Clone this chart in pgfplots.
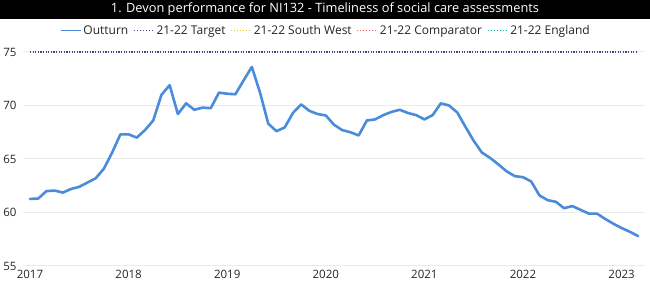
\documentclass[border=0pt]{standalone}
\usepackage{pgfplots}
\pgfplotsset{compat=1.18}
\usepackage{fontspec}
\setmainfont{Open Sans}
\definecolor{outturn}{HTML}{4A8BDB}
\definecolor{target}{HTML}{3C4A85}
\definecolor{southwest}{HTML}{F2C80F}
\definecolor{comparator}{HTML}{FD625E}
\definecolor{england}{HTML}{01B8AA}
\definecolor{gridc}{HTML}{EBEBEB}
\definecolor{txt}{HTML}{252423}

\newcommand{\legsym}[2]{%
  \tikz[baseline=-0.6ex]{\draw[#1, line width=1.2pt, #2] (0,0) -- (20pt,0);}}

\begin{document}
\begin{tikzpicture}[x=1pt, y=1pt]
\useasboundingbox (0,0) rectangle (650,288);
\fill[black] (0,269) rectangle (650,288);
\node[text=white, font=\fontsize{12.8}{14}\selectfont] at (325,279)
  {1. Devon performance for NI132 - Timeliness of social care assessments};

\node[text=txt, font=\fontsize{12}{14}\selectfont, inner sep=0pt] at (325,256.5) {%
  \legsym{outturn}{solid}\,Outturn\hspace{5pt}%
  \legsym{target}{dash pattern=on 1pt off 2pt}\,21-22 Target\hspace{5pt}%
  \legsym{southwest}{dash pattern=on 1pt off 2pt}\,21-22 South West\hspace{5pt}%
  \legsym{comparator}{dash pattern=on 1pt off 2pt}\,21-22 Comparator\hspace{5pt}%
  \legsym{england}{dash pattern=on 1pt off 2pt}\,21-22 England};

\begin{axis}[
  at={(23pt,22pt)}, anchor=south west,
  scale only axis, width=622pt, height=214pt,
  xmin=-0.85, xmax=74.85, ymin=55, ymax=75,
  xtick={0,12,24,36,48,60,72},
  xticklabels={2017,2018,2019,2020,2021,2022,2023},
  ytick={55,60,65,70,75},
  ymajorgrids, grid style={gridc, line width=1pt},
  axis line style={draw=none}, major tick length=0pt,
  tick label style={text=txt, font=\fontsize{11.5}{13}\selectfont},
  yticklabel style={xshift=-3pt},
  xticklabel style={yshift=-1pt},
  /pgf/number format/assume math mode=true,
  clip=false,
]
\addplot[target, line width=1.6pt, dash pattern=on 1.2pt off 1.4pt]
  coordinates {(0,75) (74,75)};
\addplot[outturn, line width=2.6pt, line join=round, line cap=round] coordinates {
(0,61.27) (1,61.3) (2,62.0) (3,62.05) (4,61.86) (5,62.2) (6,62.4) (7,62.8) (8,63.2) (9,64.1)
(10,65.6) (11,67.3) (12,67.3) (13,67.0) (14,67.7) (15,68.6) (16,71.0) (17,71.9) (18,69.2) (19,70.2)
(20,69.6) (21,69.8) (22,69.75) (23,71.2) (24,71.1) (25,71.05) (26,72.35) (27,73.6) (28,71.2) (29,68.3)
(30,67.6) (31,67.95) (32,69.3) (33,70.1) (34,69.5) (35,69.2) (36,69.07) (37,68.2) (38,67.7) (39,67.5)
(40,67.2) (41,68.6) (42,68.7) (43,69.1) (44,69.4) (45,69.6) (46,69.3) (47,69.1) (48,68.7) (49,69.1)
(50,70.2) (51,70.0) (52,69.35) (53,68.0) (54,66.7) (55,65.6) (56,65.1) (57,64.5) (58,63.85) (59,63.4)
(60,63.3) (61,62.9) (62,61.6) (63,61.15) (64,61.0) (65,60.4) (66,60.6) (67,60.25) (68,59.9) (69,59.9)
(70,59.4) (71,58.95) (72,58.55) (73,58.2) (74,57.8)
};
\end{axis}
\end{tikzpicture}
\end{document}
